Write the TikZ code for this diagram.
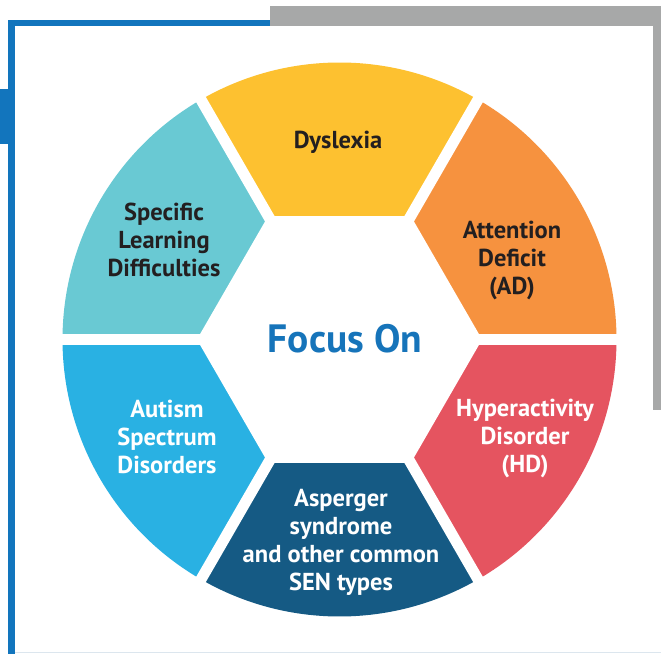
\documentclass[tikz,border=0pt]{standalone}
\usepackage{fontspec}
\setmainfont{PT Sans}
\usepackage{xcolor}

\definecolor{segyellow}{HTML}{FDC130}
\definecolor{segorange}{HTML}{F6923F}
\definecolor{segred}{HTML}{E55460}
\definecolor{segdark}{HTML}{155A84}
\definecolor{segblue}{HTML}{29B1E3}
\definecolor{segcyan}{HTML}{69C9D3}
\definecolor{focusblue}{HTML}{1674BA}
\definecolor{frameblue}{HTML}{1275BD}
\definecolor{framegray}{HTML}{A7A8A8}
\definecolor{framelight}{HTML}{DCE6EE}
\definecolor{labdark}{HTML}{231F20}

\tikzset{
  lab/.style={font=\bfseries\fontsize{24.5}{28}\selectfont, align=center},
  darklab/.style={lab, text=labdark},
  whitelab/.style={lab, text=white}
}

\begin{document}
\begin{tikzpicture}[x=1pt,y=1pt]
\useasboundingbox (0,0) rectangle (661,654);
\fill[white] (0,0) rectangle (661,654);
% frame
\fill[framegray] (270,628) rectangle (661,648);
\fill[framegray] (653,244) rectangle (661,648);
\fill[frameblue] (8,628) rectangle (270,634);
\fill[frameblue] (8,0) rectangle (15,634);
\fill[frameblue] (0,510) rectangle (8,565);
\draw[framelight] (15,1.5) -- (661,1.5);

% ring of six sectors
\coordinate (c) at (339.5,314.5);
\foreach \a/\col in {0/segorange,60/segyellow,120/segcyan,180/segblue,240/segdark,300/segred}
  \fill[\col] (c) -- ++(\a:277) arc[start angle=\a, delta angle=60, radius=277] -- cycle;
\foreach \a in {0,60,...,300}
  \draw[white, line width=11pt] (c) -- ++(\a:285);
\fill[white, shift={(339.5,314.5)}] (0:142.6) -- (60:142.6) -- (120:142.6)
  -- (180:142.6) -- (240:142.6) -- (300:142.6) -- cycle;

% labels
\node[font=\bfseries\fontsize{39.5}{42}\selectfont, text=focusblue] (focus) at (345,315.5) {Focus On};
\node[darklab] (dys) at (338,512) {Dyslexia};
\node[darklab] (sld) at (164,414) {Specific\\Learning\\Difficulties};
\node[darklab] (ad) at (512,394) {Attention\\Deficit\\(AD)};
\node[whitelab] (hd) at (525,215.5) {Hyperactivity\\Disorder\\(HD)};
\node[whitelab] (asd) at (167,217) {Autism\\Spectrum\\Disorders};
\node[whitelab] (asp) at (341,112) {Asperger\\syndrome\\and other common\\SEN types};
\end{tikzpicture}
\end{document}
